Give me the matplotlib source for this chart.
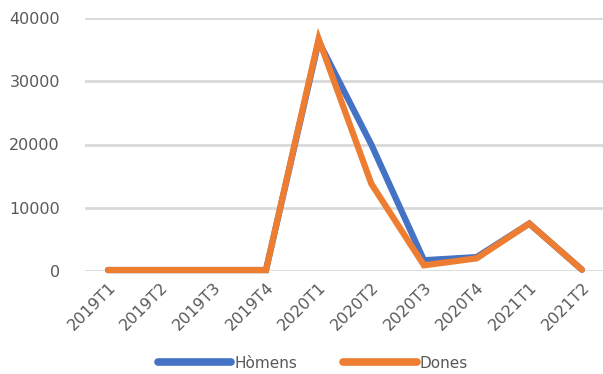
import matplotlib.pyplot as plt

quarters = ['2019T1', '2019T2', '2019T3', '2019T4', '2020T1',
            '2020T2', '2020T3', '2020T4', '2021T1', '2021T2']
homens = [150, 150, 150, 150, 36300, 20000, 1700, 2200, 7500, 200]
dones = [150, 150, 150, 150, 36700, 13800, 900, 2000, 7500, 200]

blue = '#4472C4'
orange = '#ED7D31'
text_color = '#595959'

fig = plt.figure(figsize=(6.03, 3.74), dpi=100)
ax = fig.add_axes([85 / 603, 1 - 271 / 374, 518 / 603, 253 / 374])

x = range(len(quarters))
ax.plot(x, homens, color=blue, lw=4.5, label='Hòmens', clip_on=False,
        solid_joinstyle='miter', solid_capstyle='round', zorder=3)
ax.plot(x, dones, color=orange, lw=4.5, label='Dones', clip_on=False,
        solid_joinstyle='miter', solid_capstyle='round', zorder=4)

ax.set_ylim(0, 40000)
ax.set_yticks([0, 10000, 20000, 30000, 40000])
ax.set_xlim(-0.437, 9.40)
ax.set_xticks(list(x))
ax.set_xticklabels(quarters, rotation=45, ha='right', rotation_mode='anchor')

ax.grid(axis='y', color='#D9D9D9', lw=2)
ax.set_axisbelow(True)
for s in ax.spines.values():
    s.set_visible(False)
ax.tick_params(length=0, colors=text_color, labelsize=11.5)
ax.tick_params(axis='y', pad=18)
ax.tick_params(axis='x', pad=6)

leg = fig.legend(loc='center', bbox_to_anchor=(313 / 603, 1 - 363 / 374), ncol=2,
                 frameon=False, handlelength=4.8, columnspacing=3.0,
                 handletextpad=0.2, fontsize=11, labelcolor=text_color)
for line in leg.get_lines():
    line.set_linewidth(5.5)

plt.savefig('out.png')
